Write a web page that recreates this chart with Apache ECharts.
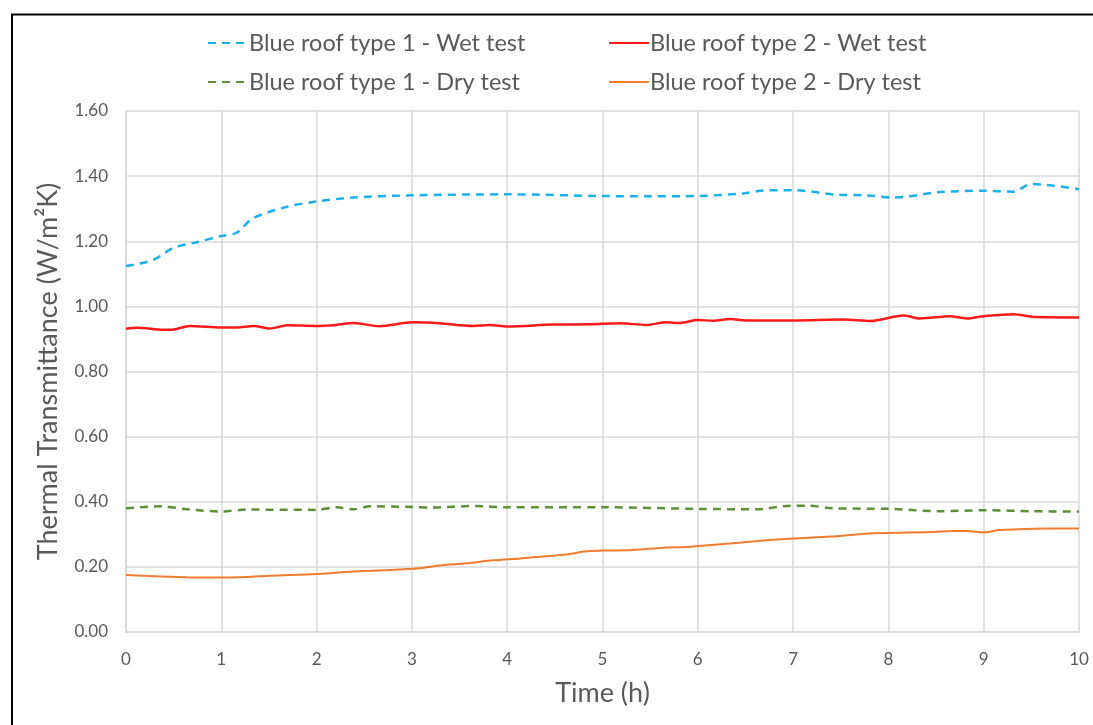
<!DOCTYPE html>
<html>
<head>
<meta charset="utf-8">
<script src="https://cdn.jsdelivr.net/npm/echarts@6/dist/echarts.min.js"></script>
<style>
html,body{margin:0;padding:0;background:#fff;}
#chart{width:1093px;height:725px;}
</style>
</head>
<body>
<div id="chart"></div>
<script>
// ---- Data ----
const seriesNames = [
  'Blue roof type 1 - Wet test',
  'Blue roof type 2 - Wet test',
  'Blue roof type 1 - Dry test',
  'Blue roof type 2 - Dry test'
];
const xTicks = [0,1,2,3,4,5,6,7,8,9,10];
const yTicks = [0,0.2,0.4,0.6,0.8,1.0,1.2,1.4,1.6];

const wet1Time   = [0,0.28,0.5,0.74,1.0,1.16,1.33,1.69,2.0,2.38,3.0,4.0,4.97,5.5,6.0,6.48,6.69,7.0,7.46,7.77,8.05,8.54,9.0,9.31,9.5,10.0];
const wet1Values = [1.124,1.142,1.18,1.197,1.216,1.226,1.27,1.306,1.322,1.334,1.341,1.344,1.339,1.338,1.339,1.347,1.356,1.357,1.343,1.341,1.334,1.351,1.355,1.352,1.376,1.36];

const wet2Time   = [0,0.12,0.39,0.5,0.67,1.0,1.16,1.34,1.51,1.69,2.0,2.2,2.39,2.66,3.01,3.29,3.64,3.82,4.0,4.48,4.87,5.18,5.46,5.67,5.81,6.0,6.16,6.34,6.51,7.0,7.53,7.81,8.16,8.33,8.65,8.82,9.0,9.31,9.55,10.0];
const wet2Values = [0.931,0.934,0.928,0.929,0.940,0.935,0.935,0.940,0.932,0.942,0.940,0.943,0.949,0.939,0.951,0.948,0.940,0.943,0.938,0.944,0.945,0.948,0.943,0.951,0.949,0.958,0.956,0.961,0.957,0.957,0.960,0.955,0.972,0.963,0.970,0.963,0.970,0.976,0.967,0.966];

const dry1Time   = [0,0.36,0.64,1.0,1.27,2.0,2.21,2.39,2.56,3.01,3.19,3.68,4.0,5.0,6.0,6.62,6.97,7.15,7.42,8.02,8.54,9.03,9.49,10.0];
const dry1Values = [0.380,0.386,0.377,0.370,0.376,0.375,0.383,0.377,0.386,0.384,0.382,0.387,0.383,0.383,0.378,0.377,0.388,0.388,0.380,0.378,0.371,0.374,0.371,0.370];

const dry2Time   = [0,0.64,1.0,1.27,1.51,2.0,2.39,3.01,3.29,3.57,3.85,4.13,4.41,4.62,4.83,5.0,5.32,5.64,5.92,6.34,6.69,7.0,7.39,7.84,8.47,8.68,8.82,9.0,9.17,9.66,10.0];
const dry2Values = [0.175,0.168,0.167,0.169,0.173,0.178,0.186,0.194,0.204,0.211,0.220,0.226,0.233,0.238,0.248,0.250,0.252,0.259,0.262,0.272,0.281,0.287,0.293,0.303,0.307,0.310,0.310,0.306,0.313,0.318,0.318];

const colors = ['#1cb0ea', '#ff1a1a', '#5e8f3a', '#f07c2e'];
const dashed = [true, false, true, false];
const widths = [2.5, 2.5, 2.5, 2];

function pairs(t, v){ return t.map((x,i)=>[x, v[i]]); }
const allData = [pairs(wet1Time,wet1Values), pairs(wet2Time,wet2Values), pairs(dry1Time,dry1Values), pairs(dry2Time,dry2Values)];

const FONT = 'Lato, "Open Sans", sans-serif';
const TXT = '#595959';

const chart = echarts.init(document.getElementById('chart'), null, {renderer:'canvas'});

const legendPos = [
  {left: 207, top: 31},
  {left: 608, top: 31},
  {left: 207, top: 70},
  {left: 608, top: 70}
];

const option = {
  backgroundColor: '#fff',
  animation: false,
  legend: seriesNames.map((n,i)=>({
    data:[n], left: legendPos[i].left, top: legendPos[i].top, padding:0,
    itemWidth: 40, itemHeight: 12, itemGap: 2,
    itemStyle:{opacity:0},
    textStyle:{fontFamily:FONT, fontSize:23.5, color:TXT, padding:[0,0,0,-4]}
  })),
  grid: {left:126, right:14, top:111, bottom:93, containLabel:false},
  xAxis: {
    type:'value', min:0, max:10, interval:1,
    name:'Time (h)', nameLocation:'middle', nameGap:48,
    nameTextStyle:{fontFamily:FONT, fontSize:27, color:TXT},
    axisLine:{show:true, lineStyle:{color:'#d9d9d9', width:1.5}},
    axisTick:{show:false},
    axisLabel:{fontFamily:FONT, fontSize:17, color:TXT, margin:19},
    splitLine:{show:true, lineStyle:{color:'#d9d9d9', width:1.5}}
  },
  yAxis: {
    type:'value', min:0, max:1.6, interval:0.2,
    name:'Thermal Transmittance (W/m²K)', nameLocation:'middle', nameGap:64,
    nameTextStyle:{fontFamily:FONT, fontSize:27, color:TXT},
    axisLine:{show:true, lineStyle:{color:'#d9d9d9', width:1.5}},
    axisTick:{show:false},
    axisLabel:{fontFamily:FONT, fontSize:17, color:TXT, margin:18, formatter:v=>v.toFixed(2)},
    splitLine:{show:true, lineStyle:{color:'#d9d9d9', width:1.5}}
  },
  series: seriesNames.map((n,i)=>({
    name:n, type:'line', data:allData[i], showSymbol:false, symbol:'none', smooth:0.3,
    lineStyle:{color:colors[i], width:widths[i], type: dashed[i] ? [8,6] : 'solid'},
    itemStyle:{color:colors[i]}
  })),
  graphic: [{
    type:'polyline', silent:true, z:100,
    shape:{points:[[12,725],[12,14.5],[1093,14.5]]},
    style:{stroke:'#000', lineWidth:2, fill:null}
  }]
};
chart.setOption(option);
</script>
</body>
</html>
